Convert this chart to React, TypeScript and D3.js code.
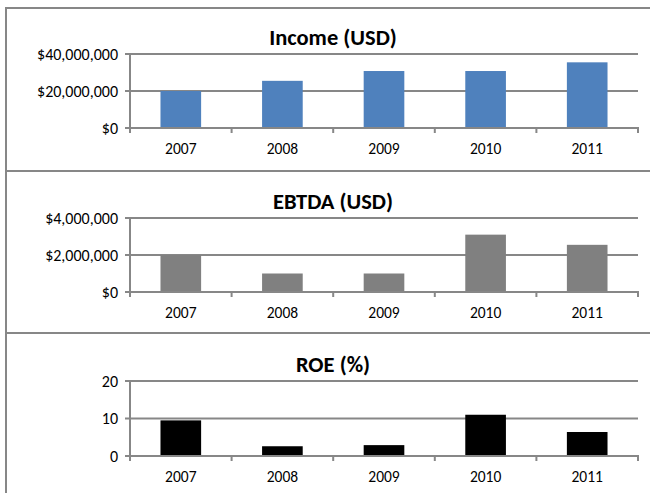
import React from "react";
import * as d3 from "d3";

const years = ["2007", "2008", "2009", "2010", "2011"];
const incomeValues = [20000000, 25500000, 30800000, 30800000, 35500000];
const ebtdaValues = [2000000, 1000000, 1000000, 3100000, 2550000];
const roeValues = [9.5, 2.6, 2.9, 11.0, 6.4];
const incomeTicks = [0, 20000000, 40000000];
const ebtdaTicks = [0, 2000000, 4000000];
const roeTicks = [0, 10, 20];
const titles = ["Income (USD)", "EBTDA (USD)", "ROE (%)"];

const W = 650;
const H = 493;
const FONT = "Carlito, Calibri, Lato, 'Open Sans', sans-serif";
const GRID = "#878787";

const money = (v: number) => "$" + d3.format(",")(v);
const plain = (v: number) => String(v);

type PanelProps = {
  top: number;
  bottom: number;
  plotTop: number;
  plotBottom: number;
  title: string;
  values: number[];
  ticks: number[];
  fmt: (v: number) => string;
  color: string;
};

function Panel({ top, bottom, plotTop, plotBottom, title, values, ticks, fmt, color }: PanelProps) {
  const xb = d3.scaleBand<string>().domain(years).range([130, 638]);
  const y = d3.scaleLinear().domain([ticks[0], ticks[ticks.length - 1]]).range([plotBottom, plotTop]);
  const bw = xb.bandwidth() / 2.5;
  return (
    <g>
      <rect x={6} y={top} width={700} height={bottom - top} fill="#fff" stroke={GRID} strokeWidth={2} />
      <text x={333} y={plotTop - 9} textAnchor="middle" fontFamily={FONT} fontWeight="bold" fontSize={22.5} fill="#000">
        {title}
      </text>
      {ticks.map((t) => (
        <g key={t}>
          <line x1={125} x2={638} y1={y(t)} y2={y(t)} stroke={GRID} strokeWidth={2} />
          <text x={118} y={y(t) + 5.5} textAnchor="end" fontFamily={FONT} fontSize={16} fill="#000">
            {fmt(t)}
          </text>
        </g>
      ))}
      {years.map((yr, i) => {
        const cx = (xb(yr) as number) + xb.bandwidth() / 2;
        return (
          <g key={yr}>
            <rect x={cx - bw / 2} y={y(values[i])} width={bw} height={y(ticks[0]) - y(values[i])} fill={color} />
            <text x={cx} y={plotBottom + 26} textAnchor="middle" fontFamily={FONT} fontSize={15.5} fill="#000">
              {yr}
            </text>
          </g>
        );
      })}
      <line x1={130} x2={130} y1={plotTop} y2={plotBottom} stroke={GRID} strokeWidth={2} />
      <line x1={129} x2={639} y1={plotBottom} y2={plotBottom} stroke={GRID} strokeWidth={2} />
      {years.concat(["end"]).map((yr, i) => {
        const xx = i < years.length ? (xb(yr) as number) : 638;
        return <line key={"t" + i} x1={xx} x2={xx} y1={plotBottom} y2={plotBottom + 5} stroke={GRID} strokeWidth={2} />;
      })}
    </g>
  );
}

export default function App() {
  return (
    <svg width={W} height={H} style={{ position: "absolute", left: 0, top: 0, background: "#fff" }}>
      <rect width={W} height={H} fill="#fff" />
      <Panel top={8} bottom={171} plotTop={54} plotBottom={128} title={titles[0]} values={incomeValues} ticks={incomeTicks} fmt={money} color="#4F81BD" />
      <Panel top={171} bottom={333} plotTop={218} plotBottom={292} title={titles[1]} values={ebtdaValues} ticks={ebtdaTicks} fmt={money} color="#808080" />
      <Panel top={333} bottom={520} plotTop={381} plotBottom={456} title={titles[2]} values={roeValues} ticks={roeTicks} fmt={plain} color="#000000" />
    </svg>
  );
}
